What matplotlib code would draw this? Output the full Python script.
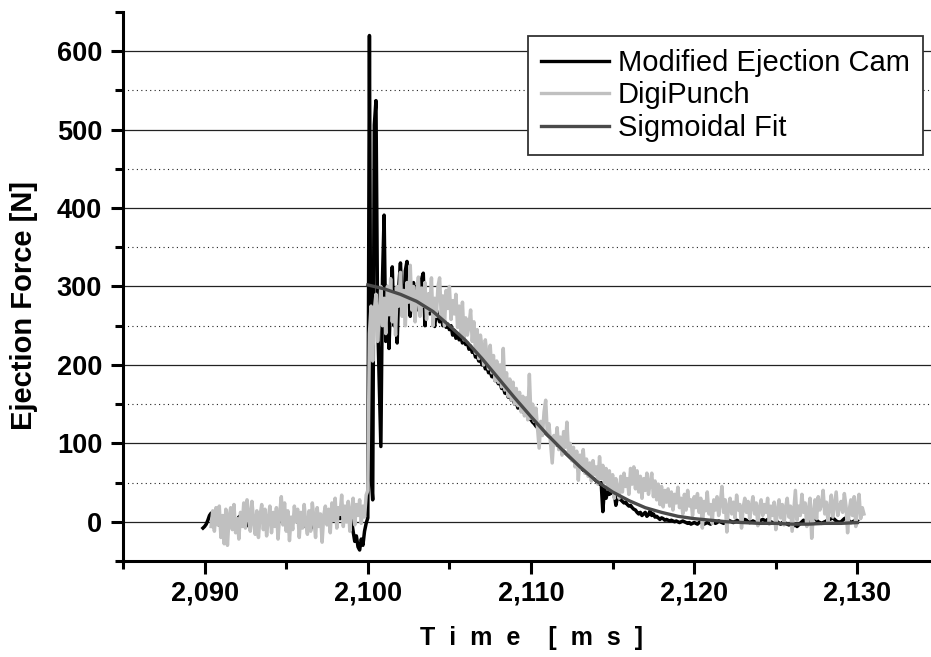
#!/usr/bin/python
# -*- coding: utf-8 -*-

import numpy as np
import matplotlib
matplotlib.use('Agg')
import matplotlib.pyplot as plt
from matplotlib.ticker import MultipleLocator, StrMethodFormatter

plt.rcParams['font.family'] = ['Liberation Sans', 'DejaVu Sans']

# Modified Ejection Cam, sampled every 0.1 ms from 2089.9 ms
cam_t0 = 2089.9
cam_force = [
    -8, -6, -3, 2, 8, 11, 8, 4, 0, -3,
    -4, -2, 2, 5, 6, 3, 0, -2, -4, -3,
    0, 3, 6, 8, 6, 2, -2, -5, -4, 0,
    3, 6, 4, 2, 2, 4, 6, 3, 0, -2,
    -1, 2, 4, 3, 0, -3, -2, 1, 4, 2,
    0, -2, -4, -3, 0, 3, 5, 3, 0, -3,
    -5, -6, -4, -6, -8, -10, -9, -6, -3, 0,
    2, 4, 5, 3, 1, 2, 4, 6, 8, 7,
    8, 10, 8, 6, 4, 6, 8, 10, 12, 8,
    6, 2, -12, -25, -18, -32, -36, -22, -30, -12,
    -2, 5, 620, 60, 28, 506, 537, 260, 180, 96,
    310, 391, 230, 300, 221, 290, 325, 250, 290, 228,
    300, 330, 280, 265, 320, 332, 290, 262, 295, 305,
    280, 300, 270, 295, 310, 317, 250, 275, 290, 265,
    278, 260, 249, 270, 262, 255, 262, 250, 256, 248,
    252, 245, 250, 238, 244, 234, 240, 232, 236, 228,
    232, 226, 228, 220, 224, 216, 218, 210, 212, 205,
    208, 200, 203, 195, 198, 190, 192, 185, 187, 180,
    181, 176, 178, 170, 172, 164, 166, 159, 162, 155,
    157, 150, 152, 145, 148, 142, 144, 138, 140, 135,
    132, 130, 127, 125, 122, 120, 118, 117, 115, 114,
    113, 111, 109, 107, 105, 102, 100, 98, 96, 94,
    92, 90, 88, 86, 84, 82, 80, 78, 76, 74,
    72, 70, 68, 66, 64, 62, 60, 58, 57, 55,
    54, 52, 50, 48, 50, 13, 42, 30, 38, 35,
    37, 36, 38, 21, 32, 30, 28, 26, 24, 25,
    22, 20, 21, 18, 16, 15, 12, 10, 12, 8,
    10, 12, 7, 9, 14, 8, 10, 6, 7, 5,
    3, 5, 4, 2, 3, 2, 1, 2, 1, 0,
    1, 0, -1, 0, 1, 0, -1, -2, -1, -3,
    -2, -1, -2, -3, -1, 0, -2, -3, -2, -1,
    -2, -3, -1, 0, -2, -1, 1, 0, -1, -2,
    -1, 0, 2, 1, 0, -1, 0, 2, 1, 0,
    0, 1, 3, 2, 0, -1, 0, 1, 0, -1,
    0, 1, 2, 3, 2, 1, 3, 1, 0, -1,
    -2, -1, 0, -2, -3, -1, 0, -2, -3, -4,
    -3, -4, -5, -4, -6, -4, -2, 0, 2, 1,
    0, 2, 1, 3, 5, 4, 2, 0, -1, -2,
    -1, 0, 1, 2, 3, 4, 5, 3, 1, 0,
    -1, 0, 2, 4, 5, 3, 1, -1, 0, 1,
    2, 1,
]

# DigiPunch, sampled every 0.1 ms from 2090.4 ms
digi_t0 = 2090.4
digi_force = [
    -6, 14, -12, 18, -4, 20, -20, 8, -28, 16,
    -30, 6, 18, -10, 22, -14, 4, -22, 12, -6,
    24, -8, 28, 10, -12, 26, 2, -16, 14, -20,
    8, 22, -10, 16, -18, 4, 20, -14, 12, -6,
    18, -22, 10, 32, -4, 24, -12, 14, -24, 6,
    -10, 20, 0, 16, -20, 12, -8, 22, -2, -16,
    14, -12, 24, 4, -20, 18, -6, 10, -26, 8,
    20, -4, 16, -14, 24, 2, 30, -8, 18, 10,
    34, -6, 20, 0, 26, -12, 14, 30, -4, 22,
    8, 28, -2, 20, 6, 34, 40, 240, 275, 205,
    270, 290, 230, 262, 300, 250, 285, 240, 300, 264,
    310, 255, 290, 238, 300, 275, 318, 262, 295, 250,
    305, 280, 327, 270, 300, 255, 290, 312, 262, 298,
    275, 305, 258, 290, 270, 311, 250, 285, 262, 300,
    311, 262, 288, 250, 295, 272, 300, 258, 282, 265,
    290, 248, 275, 240, 280, 232, 260, 238, 250, 270,
    230, 255, 215, 245, 208, 238, 222, 200, 232, 212,
    195, 225, 190, 212, 180, 205, 178, 200, 172, 221,
    168, 190, 160, 182, 155, 178, 150, 170, 148, 165,
    140, 160, 135, 158, 130, 188, 132, 150, 128, 145,
    120, 94, 128, 110, 140, 155, 112, 125, 100, 75,
    110, 98, 120, 92, 108, 85, 115, 95, 127, 88,
    100, 78, 95, 70, 90, 53, 85, 68, 92, 62,
    80, 58, 75, 52, 78, 60, 70, 48, 83, 55,
    72, 50, 68, 44, 65, 40, 60, 30, 55, 42,
    30, 58, 38, 62, 45, 55, 35, 68, 48, 70,
    42, 65, 38, 58, 30, 55, 40, 62, 35, 50,
    62, 32, 52, 28, 48, 22, 45, 19, 40, 25,
    42, 20, 38, 15, 35, 24, 44, 18, 30, 10,
    35, 15, 40, 20, 28, 8, 32, 18, 36, 12,
    30, -8, 26, 14, 38, 10, 22, -2, 28, 15,
    32, 8, 24, 45, 12, 28, -13, 20, 30, 10,
    25, 5, 34, 15, 22, -8, 18, 30, 12, 26,
    4, 20, 32, 10, 24, -5, 18, 28, 8, 22,
    12, 30, -3, 20, 8, 25, -10, 15, 28, 5,
    22, -4, 18, 30, 6, 20, -12, 14, 40, 2,
    20, 8, 35, 12, 24, -6, 16, 30, -21, 10,
    28, 4, 32, 15, 22, 40, 10, 25, 0, 18,
    34, 6, 22, 38, 8, 18, 26, 12, 36, 20,
    -14, 15, 28, 8, 32, -6, 20, 35, 4, 18,
    10,
]

# Sigmoidal fit, one point per ms
fit_time = [2100, 2101, 2102, 2103, 2104, 2105, 2106, 2107, 2108, 2109,
            2110, 2111, 2112, 2113, 2114, 2115, 2116, 2117, 2118, 2119,
            2120, 2121, 2122, 2123, 2124, 2125, 2126, 2127, 2128, 2129, 2130]
fit_force = [302, 297, 290, 281, 268, 250, 231, 208, 183, 158,
             134, 111, 90, 70, 52, 38, 27, 18, 12, 7,
             4, 2, 0, -1, -2, -2, -3, -3, -2, -2, -1]

major_grid = [0, 100, 200, 300, 400, 500, 600]
minor_grid = [50, 150, 250, 350, 450, 550]

cam_time = cam_t0 + 0.1 * np.arange(len(cam_force))
digi_time = digi_t0 + 0.1 * np.arange(len(digi_force))

fig = plt.figure(figsize=(9.31, 6.57), dpi=100)
ax = fig.add_axes([123 / 931, 1 - 561 / 657, 816 / 931, 549 / 657])

for v in major_grid:
    ax.axhline(v, color='#222222', lw=0.9, zorder=1)
for v in minor_grid:
    ax.axhline(v, color='#222222', lw=0.8, ls=(0, (1, 3)), zorder=1)

ax.plot(cam_time, cam_force, color='black', lw=2.5, label='Modified Ejection Cam', zorder=3)
ax.plot(digi_time, digi_force, color='#c0c0c0', lw=2.5, label='DigiPunch', zorder=4)
ax.plot(fit_time, fit_force, color='#4a4a4a', lw=2.4, label='Sigmoidal Fit', zorder=5)

ax.set_xlim(2085, 2135)
ax.set_ylim(-50, 650)

ax.xaxis.set_major_locator(MultipleLocator(10))
ax.xaxis.set_minor_locator(MultipleLocator(5))
ax.yaxis.set_major_locator(MultipleLocator(100))
ax.yaxis.set_minor_locator(MultipleLocator(50))
ax.xaxis.set_major_formatter(StrMethodFormatter('{x:,.0f}'))

for s in ['top', 'right']:
    ax.spines[s].set_visible(False)
for s in ['left', 'bottom']:
    ax.spines[s].set_linewidth(2.2)

ax.tick_params(which='major', direction='out', length=9, width=2.2, labelsize=19.5)
ax.tick_params(which='minor', direction='out', length=5.5, width=2.2)
ax.tick_params(axis='y', which='major', pad=6)
ax.tick_params(axis='x', which='major', pad=5)
for lab in ax.get_xticklabels() + ax.get_yticklabels():
    lab.set_fontweight('bold')

fig.text(24 / 931, 1 - 306 / 657, 'Ejection Force [N]', rotation=90,
         ha='center', va='center', fontsize=21, fontweight='bold')
fig.text(531 / 931, 1 - 638 / 657, 'T  i  m  e    [  m  s  ]',
         ha='center', va='center', fontsize=18, fontweight='bold')

leg = ax.legend(loc='upper left', bbox_to_anchor=(527.7 / 931, 1 - 35.7 / 657),
                bbox_transform=fig.transFigure, frameon=True, fancybox=False,
                shadow=False, fontsize=21, handlelength=2.35, handletextpad=0.3,
                labelspacing=0.16, borderpad=0.45, borderaxespad=0)
leg.get_frame().set_edgecolor('#333333')
leg.get_frame().set_linewidth(1.3)
leg.get_frame().set_alpha(1)
for line in leg.get_lines():
    line.set_linewidth(2.4)

plt.savefig('out.png', dpi=100)
